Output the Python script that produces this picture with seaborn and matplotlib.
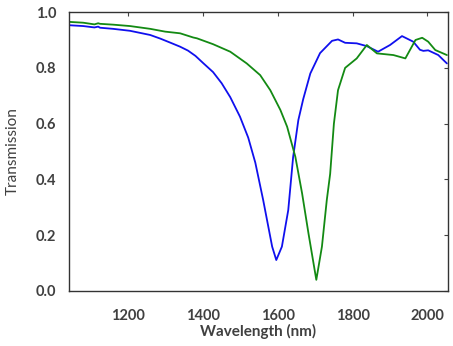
import matplotlib
matplotlib.use("Agg")
import matplotlib.pyplot as plt
import seaborn as sns
import pandas as pd

blue_wl = [1042, 1080, 1110, 1120, 1125, 1160, 1205, 1259, 1286, 1310, 1339, 1360, 1380, 1400,
           1427, 1450, 1473, 1499, 1521, 1540, 1561, 1585, 1596, 1611, 1628, 1641, 1655,
           1668, 1687, 1713, 1745, 1761, 1780, 1811, 1838, 1868, 1900, 1932, 1962, 1980,
           1989, 2002, 2029, 2052]
blue_t = [0.953, 0.950, 0.945, 0.948, 0.944, 0.940, 0.933, 0.918, 0.905, 0.892, 0.876, 0.862,
          0.843, 0.818, 0.785, 0.745, 0.695, 0.625, 0.550, 0.460, 0.326, 0.159, 0.111,
          0.159, 0.290, 0.480, 0.613, 0.688, 0.780, 0.853, 0.897, 0.902, 0.890, 0.888,
          0.878, 0.858, 0.882, 0.914, 0.894, 0.865, 0.861, 0.863, 0.846, 0.816]

green_wl = [1042, 1080, 1110, 1120, 1125, 1160, 1205, 1259, 1299, 1339, 1374, 1384, 1427, 1473,
            1517, 1553, 1580, 1607, 1625, 1647, 1665, 1682, 1703, 1718, 1731, 1740, 1750,
            1761, 1780, 1811, 1838, 1865, 1909, 1941, 1968, 1986, 2002, 2021, 2052]
green_t = [0.965, 0.962, 0.956, 0.960, 0.958, 0.955, 0.950, 0.940, 0.930, 0.924, 0.909, 0.906,
           0.885, 0.858, 0.816, 0.774, 0.720, 0.649, 0.589, 0.481, 0.350, 0.207, 0.040,
           0.159, 0.326, 0.420, 0.600, 0.720, 0.800, 0.834, 0.882, 0.852, 0.846, 0.834,
           0.900, 0.908, 0.894, 0.864, 0.846]

xticks = [1200, 1400, 1600, 1800, 2000]
yticks = [0.0, 0.2, 0.4, 0.6, 0.8, 1.0]

sns.set_style("white")
plt.rcParams['font.family'] = ['Lato', 'DejaVu Sans']

fig = plt.figure(figsize=(4.53, 3.46), dpi=100)
ax = fig.add_axes([0.1523, 0.159, 0.8367, 0.806])

dfb = pd.DataFrame({"wl": blue_wl, "t": blue_t})
dfg = pd.DataFrame({"wl": green_wl, "t": green_t})
sns.lineplot(data=dfb, x="wl", y="t", ax=ax, color="#1010ee", linewidth=1.3)
sns.lineplot(data=dfg, x="wl", y="t", ax=ax, color="#138a13", linewidth=1.3)

ax.set_xlim(1042, 2055)
ax.set_ylim(0, 1)
ax.set_xticks(xticks)
ax.set_yticks(yticks)
ax.set_yticklabels([f"{v:.1f}" for v in yticks])
ax.tick_params(direction="in", length=3, width=0.8, color="#444444",
               top=True, right=True, labelsize=10.5, labelcolor="#404040")
ax.tick_params(axis="x", pad=13)
ax.tick_params(axis="y", pad=9)
for lab in ax.get_xticklabels() + ax.get_yticklabels():
    lab.set_fontweight("bold")
for sp in ax.spines.values():
    sp.set_color("#333333")
    sp.set_linewidth(1.0)
ax.set_xlabel("Wavelength (nm)", fontsize=11, fontweight="bold", color="#404040", labelpad=1)
ax.set_ylabel("Transmission", fontsize=11, color="#404040", labelpad=12)

fig.savefig("out.png", dpi=100)
